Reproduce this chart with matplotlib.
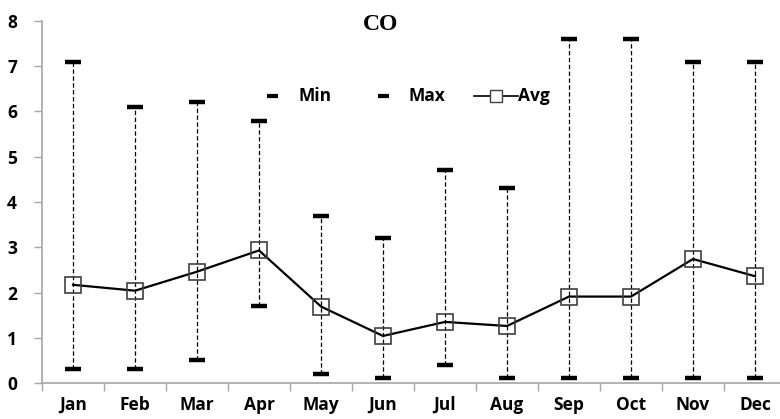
import matplotlib
matplotlib.use("Agg")
import matplotlib.pyplot as plt
from matplotlib.lines import Line2D
import numpy as np

months = ["Jan", "Feb", "Mar", "Apr", "May", "Jun", "Jul", "Aug", "Sep", "Oct", "Nov", "Dec"]
min_vals = [0.3, 0.3, 0.5, 1.7, 0.2, 0.1, 0.4, 0.1, 0.1, 0.1, 0.1, 0.1]
max_vals = [7.1, 6.1, 6.2, 5.8, 3.7, 3.2, 4.7, 4.3, 7.6, 7.6, 7.1, 7.1]
avg_vals = [2.17, 2.04, 2.46, 2.93, 1.69, 1.04, 1.35, 1.26, 1.91, 1.91, 2.74, 2.36]
yticks = [0, 1, 2, 3, 4, 5, 6, 7, 8]
legend_labels = ["Min", "Max", "Avg"]

W, H = 780, 419
fig = plt.figure(figsize=(7.8, 4.19), dpi=100)
ax = fig.add_axes([42/W, 36/H, 744/W, 362/H])

x = np.arange(len(months))
ax.vlines(x, min_vals, max_vals, colors="black", linestyles=(0, (3.5, 2)), linewidth=0.9)
ax.plot(x, min_vals, linestyle="none", marker="_", markersize=12, markeredgewidth=3.2, color="black")
ax.plot(x, max_vals, linestyle="none", marker="_", markersize=12, markeredgewidth=3.2, color="black")
ax.plot(x, avg_vals, color="black", linewidth=1.6, zorder=3)
ax.plot(x, avg_vals, linestyle="none", marker="s", markersize=11, markerfacecolor="none",
        markeredgecolor="#404040", markeredgewidth=1.2, zorder=4)

ax.set_xlim(-0.5, len(months) - 0.5)
ax.set_ylim(0, 8)
ax.set_yticks(yticks)
ax.set_yticklabels([str(t) for t in yticks])
ax.set_xticks(x)
ax.set_xticklabels(months)
ax.set_xticks(np.arange(-0.5, len(months), 1), minor=True)
ax.tick_params(axis="x", which="major", length=0, pad=9)
ax.tick_params(axis="x", which="minor", length=6, color="#a6a6a6", width=1)
ax.tick_params(axis="y", length=6, color="#a6a6a6", width=1, pad=12)

for lab in ax.get_xticklabels() + ax.get_yticklabels():
    lab.set_fontfamily("Open Sans")
    lab.set_fontweight("bold")
    lab.set_fontsize(12.5)

for s in ["top", "right"]:
    ax.spines[s].set_visible(False)
for s in ["left", "bottom"]:
    ax.spines[s].set_color("#a6a6a6")
    ax.spines[s].set_linewidth(1.2)

fig.text(381/W, 1 - 24/H, "CO", ha="center", va="center", fontfamily="Liberation Serif",
         fontweight="bold", fontsize=17)

# manual legend
ly = 1 - 96/H
tprops = dict(fontfamily="Open Sans", fontweight="bold", fontsize=12.5, va="center", ha="left")
fig.add_artist(Line2D([267/W, 278/W], [ly, ly], color="black", linewidth=3, solid_capstyle="butt"))
fig.text(299/W, ly, legend_labels[0], **tprops)
fig.add_artist(Line2D([378/W, 389/W], [ly, ly], color="black", linewidth=3, solid_capstyle="butt"))
fig.text(408/W, ly, legend_labels[1], **tprops)
fig.add_artist(Line2D([474/W, 518/W], [ly, ly], color="black", linewidth=1.2))
fig.add_artist(Line2D([496/W], [ly], linestyle="none", marker="s", markersize=9,
                      markerfacecolor="white", markeredgecolor="#404040", markeredgewidth=1.0))
fig.text(518/W, ly, legend_labels[2], **tprops)

fig.savefig("out.png", dpi=100)
